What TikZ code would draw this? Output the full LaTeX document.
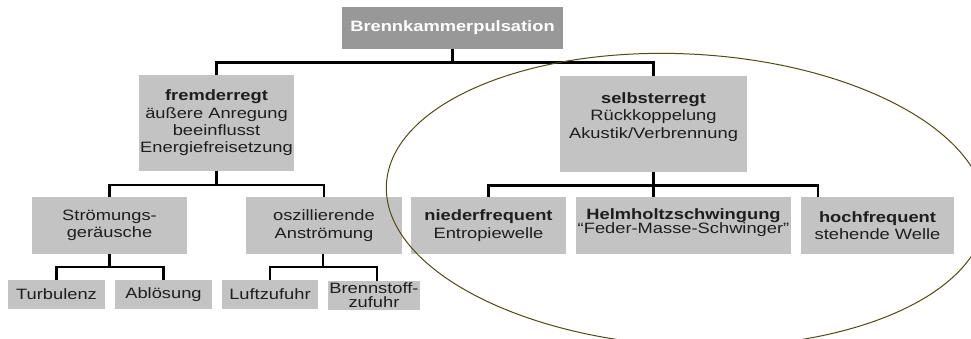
\documentclass[tikz,border=0pt]{standalone}
\usepackage{fontspec}
\setmainfont{Liberation Sans}[FakeStretch=1.22]
\definecolor{boxgray}{RGB}{195,195,195}
\definecolor{topgray}{RGB}{152,152,152}
\definecolor{txt}{RGB}{30,30,30}
\definecolor{ellcol}{RGB}{80,74,20}
\begin{document}
\begin{tikzpicture}[x=1pt,y=-1pt]
\tikzset{
  box/.style={fill=boxgray, text=txt, align=center, inner sep=0pt, outer sep=0pt,
    font=\fontsize{15}{17.3}\selectfont},
  topbox/.style={fill=topgray, text=white, align=center, inner sep=0pt, outer sep=0pt,
    font=\bfseries\fontsize{15}{17.3}\selectfont},
  link/.style={line width=2.8pt, draw=black},
  loopline/.style={draw=ellcol, line width=1pt}
}
\useasboundingbox (0,0) rectangle (971,338);
\fill[white] (0,0) rectangle (971,338);

% nodes
\node[topbox, minimum width=221pt, minimum height=42pt] (top) at (452.5,28) {Brennkammerpulsation};

\node[box, minimum width=155pt, minimum height=96pt] (fr) at (216.5,123)
  {\textbf{fremderregt}\\äußere Anregung\\beeinflusst\\Energiefreisetzung};
\node[box, minimum width=187pt, minimum height=96pt] (se) at (653.5,124)
  {\textbf{selbsterregt}\\Rückkoppelung\\Akustik/Verbrennung\\\mbox{}};

\node[box, minimum width=155pt, minimum height=57pt] (st) at (109.5,225.5)
  {Strömungs-\\geräusche};
\node[box, minimum width=156pt, minimum height=57pt] (os) at (324,225.5)
  {oszillierende\\Anströmung};
\node[box, minimum width=155pt, minimum height=57pt] (ni) at (488.5,225.5)
  {\textbf{niederfrequent}\\Entropiewelle};
\node[box, minimum width=215pt, minimum height=57pt] (hh) at (683.5,225.5)
  {\textbf{Helmholtzschwingung}\\[-3.5pt]“Feder-Masse-Schwinger”\\[-9pt]\mbox{}};
\node[box, minimum width=153pt, minimum height=57pt] (hf) at (877.5,225.5)
  {\textbf{hochfrequent}\\stehende Welle};

\node[box, minimum width=97pt, minimum height=29pt] (tu) at (56.5,294.5) {Turbulenz};
\node[box, minimum width=97pt, minimum height=29pt] (ab) at (163.5,294.5) {Ablösung};
\node[box, minimum width=96pt, minimum height=29pt] (lu) at (270,294.5) {Luftzufuhr};
\node[box, minimum width=92pt, minimum height=29pt] (br) at (374,295)
  {Brennstoff-\\[-4pt]zufuhr};

% connectors
\draw[link] (top.south) -- ++(0,13.5) coordinate (b1);
\draw[link] (fr.north) |- (b1) -| (se.north);

\draw[link] (fr.south) -- ++(0,14) coordinate (b2);
\draw[link] (st.north) |- (b2) -| (os.north);

\draw[link] (st.south) -- ++(0,13) coordinate (b3);
\draw[link] (tu.north) |- (b3) -| (ab.north);

\draw[link] ([xshift=-1pt]os.south) -- ++(0,13) coordinate (b4);
\draw[link] (lu.north) |- (b4) -| ([xshift=3pt]br.north);

\draw[link] (se.south) -- (se.south |- hh.north);
\draw[link] (ni.north) |- ([yshift=11.5pt]se.south |- hh.north) -| ([xshift=17pt]hf.north west);

% ellipse
\begin{scope}
\clip (0,0) rectangle (971,338);
\draw[loopline, rotate around={-3:(686,200)}] (686,200) ellipse [x radius=300pt, y radius=146pt];
\end{scope}
\end{tikzpicture}
\end{document}
